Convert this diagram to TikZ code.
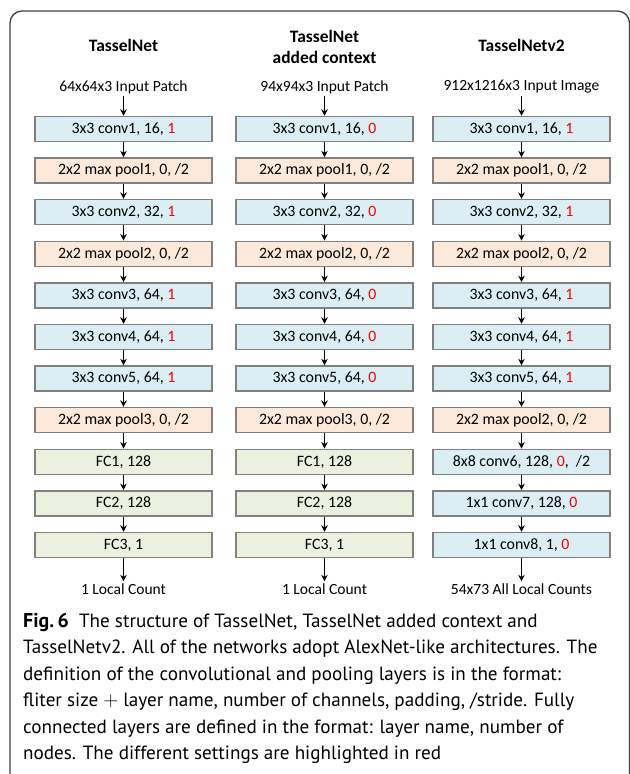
\documentclass[tikz,border=0pt]{standalone}
\usepackage{fontspec}
\setmainfont{Carlito}
\newfontfamily\capfont{PT Sans}
\usetikzlibrary{arrows.meta}
\definecolor{bluef}{HTML}{DAEEF3}
\definecolor{peachf}{HTML}{FDE9D9}
\definecolor{greenf}{HTML}{EBF1DE}
\definecolor{edgec}{HTML}{808080}
\definecolor{framec}{HTML}{404040}
\newcommand{\hl}[1]{\textcolor{red}{#1}}
\tikzset{
  layer/.style={draw=edgec, line width=1.5bp, minimum width=177bp, minimum height=25bp, inner sep=0pt, font=\fontsize{15.9}{18}\selectfont},
  conv/.style={layer, fill=bluef},
  pool/.style={layer, fill=peachf},
  fcbox/.style={layer, fill=greenf},
  title/.style={font=\bfseries\fontsize{17.5}{21}\selectfont, align=center, inner sep=0pt},
  lbl/.style={font=\fontsize{15.6}{18}\selectfont, inner sep=2bp},
  arr/.style={-{Stealth[length=6.5bp,width=6.5bp]}, line width=1.1bp, black},
}
\begin{document}
\begin{tikzpicture}[x=1bp,y=-1bp]
\useasboundingbox (0,0) rectangle (630,774);
\clip (0,0) rectangle (630,774);
\draw[framec, line width=1.3bp, rounded corners=12bp] (10,11) rectangle (629.5,795);

% column 1
\node[title] (t1) at (123.5,45) {TasselNet};
\node[lbl] (i1) at (123.5,87) {64x64x3 Input Patch};
\node[conv] (a1) at (123.5,129) {3x3 conv1, 16, \hl{1}};
\node[pool] (a2) at (123.5,170.6) {2x2 max pool1, 0, /2};
\node[conv] (a3) at (123.5,212.2) {3x3 conv2, 32, \hl{1}};
\node[pool] (a4) at (123.5,253.8) {2x2 max pool2, 0, /2};
\node[conv] (a5) at (123.5,295.4) {3x3 conv3, 64, \hl{1}};
\node[conv] (a6) at (123.5,337) {3x3 conv4, 64, \hl{1}};
\node[conv] (a7) at (123.5,378.6) {3x3 conv5, 64, \hl{1}};
\node[pool] (a8) at (123.5,420.2) {2x2 max pool3, 0, /2};
\node[fcbox] (a9) at (123.5,461.8) {FC1, 128};
\node[fcbox] (a10) at (123.5,503.4) {FC2, 128};
\node[fcbox] (a11) at (123.5,545) {FC3, 1};
\node[lbl] (o1) at (123.5,589) {1 Local Count};

% column 2
\node[title] (t2) at (324.5,46.5) {TasselNet\\added context};
\node[lbl] (i2) at (324.5,87) {94x94x3 Input Patch};
\node[conv] (b1) at (324.5,129) {3x3 conv1, 16, \hl{0}};
\node[pool] (b2) at (324.5,170.6) {2x2 max pool1, 0, /2};
\node[conv] (b3) at (324.5,212.2) {3x3 conv2, 32, \hl{0}};
\node[pool] (b4) at (324.5,253.8) {2x2 max pool2, 0, /2};
\node[conv] (b5) at (324.5,295.4) {3x3 conv3, 64, \hl{0}};
\node[conv] (b6) at (324.5,337) {3x3 conv4, 64, \hl{0}};
\node[conv] (b7) at (324.5,378.6) {3x3 conv5, 64, \hl{0}};
\node[pool] (b8) at (324.5,420.2) {2x2 max pool3, 0, /2};
\node[fcbox] (b9) at (324.5,461.8) {FC1, 128};
\node[fcbox] (b10) at (324.5,503.4) {FC2, 128};
\node[fcbox] (b11) at (324.5,545) {FC3, 1};
\node[lbl] (o2) at (324.5,589) {1 Local Count};

% column 3
\node[title] (t3) at (521.5,45) {TasselNetv2};
\node[lbl] (i3) at (521.5,87) {912x1216x3 Input Image};
\node[conv] (c1) at (521.5,129) {3x3 conv1, 16, \hl{1}};
\node[pool] (c2) at (521.5,170.6) {2x2 max pool1, 0, /2};
\node[conv] (c3) at (521.5,212.2) {3x3 conv2, 32, \hl{1}};
\node[pool] (c4) at (521.5,253.8) {2x2 max pool2, 0, /2};
\node[conv] (c5) at (521.5,295.4) {3x3 conv3, 64, \hl{1}};
\node[conv] (c6) at (521.5,337) {3x3 conv4, 64, \hl{1}};
\node[conv] (c7) at (521.5,378.6) {3x3 conv5, 64, \hl{1}};
\node[pool] (c8) at (521.5,420.2) {2x2 max pool2, 0, /2};
\node[conv] (c9) at (521.5,461.8) {8x8 conv6, 128, \hl{0}, \ /2};
\node[conv] (c10) at (521.5,503.4) {1x1 conv7, 128, \hl{0}};
\node[conv] (c11) at (521.5,545) {1x1 conv8, 1, \hl{0}};
\node[lbl] (o3) at (521.5,589) {54x73 All Local Counts};

\foreach \p/\q in {i1/a1,i2/b1,i3/c1,a11/o1,b11/o2,c11/o3}{
  \draw[arr] (\p) -- (\q);
}
\foreach \p in {a,b,c}{
  \foreach \i [evaluate=\i as \j using int(\i+1)] in {1,...,10}{
    \draw[arr] (\p\i) -- (\p\j);
  }
}

\node[anchor=north west, align=left, inner sep=0pt, font=\capfont\fontsize{19.2}{26.6}\selectfont] (cap) at (23,613)
{{\bfseries\fontsize{20}{26.6}\selectfont Fig.\,6}\ \ The structure of TasselNet, TasselNet added context and\\
TasselNetv2. All of the networks adopt AlexNet-like architectures. The\\
definition of the convolutional and pooling layers is in the format:\\
fliter size $+$ layer name, number of channels, padding, /stride. Fully\\
connected layers are defined in the format: layer name, number of\\
nodes. The different settings are highlighted in red};
\end{tikzpicture}
\end{document}
